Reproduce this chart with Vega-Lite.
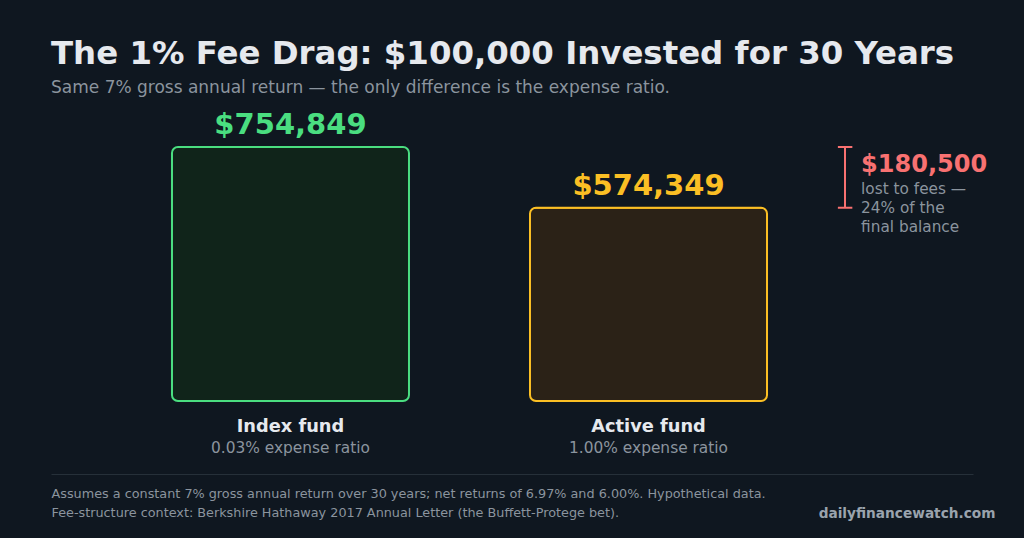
{
  "$schema": "https://vega.github.io/schema/vega-lite/v6.json",
  "width": 922,
  "height": 254,
  "autosize": {"type": "none"},
  "padding": {"left": 51, "right": 51, "top": 147, "bottom": 137},
  "background": "#0f1720",
  "title": {
    "text": "The 1% Fee Drag: $100,000 Invested for 30 Years",
    "subtitle": "Same 7% gross annual return — the only difference is the expense ratio.",
    "anchor": "start",
    "frame": "group",
    "fontSize": 32.4,
    "fontWeight": "bold",
    "color": "#e6e9ee",
    "subtitleFontSize": 17,
    "subtitleColor": "#8b949e",
    "subtitlePadding": 10,
    "offset": 15
  },
  "datasets": {
    "funds": [
      {"fund": "Index fund", "ratio": "0.03% expense ratio", "balance": 754849, "label": "$754,849"},
      {"fund": "Active fund", "ratio": "1.00% expense ratio", "balance": 574349, "label": "$574,349"}
    ],
    "gap": [
      {"low": 574349, "high": 754849, "amount": "$180,500", "note": ["lost to fees —", "24% of the", "final balance"]}
    ]
  },
  "data": {"name": "funds"},
  "encoding": {
    "x": {
      "field": "fund",
      "type": "nominal",
      "sort": null,
      "scale": {"domain": ["Index fund", "Active fund"], "paddingInner": 0.338, "paddingOuter": 0.4566, "align": 0.37},
      "axis": {
        "orient": "bottom",
        "offset": 73,
        "labels": false,
        "ticks": false,
        "grid": false,
        "domain": true,
        "domainColor": "#263039",
        "domainWidth": 1,
        "title": [
          "Assumes a constant 7% gross annual return over 30 years; net returns of 6.97% and 6.00%. Hypothetical data.",
          "Fee-structure context: Berkshire Hathaway 2017 Annual Letter (the Buffett-Protege bet)."
        ],
        "titleAnchor": "start",
        "titleAlign": "left",
        "titleBaseline": "alphabetic",
        "titleX": 0,
        "titleY": 23,
        "titleFontSize": 12.8,
        "titleFontWeight": "normal",
        "titleColor": "#8b949e",
        "titleLineHeight": 19
      }
    },
    "y": {
      "field": "balance",
      "type": "quantitative",
      "scale": {"domain": [0, 754849], "nice": false},
      "axis": {
        "orient": "right",
        "labels": false,
        "ticks": false,
        "grid": false,
        "domain": false,
        "title": "dailyfinancewatch.com",
        "titleAngle": 0,
        "titleAlign": "right",
        "titleBaseline": "alphabetic",
        "titleX": 22,
        "titleY": 370,
        "titleFontSize": 13.7,
        "titleFontWeight": "bold",
        "titleColor": "#9aa3ad"
      }
    }
  },
  "layer": [
    {
      "mark": {"type": "bar", "cornerRadius": 6, "strokeWidth": 2},
      "encoding": {
        "fill": {
          "field": "fund",
          "type": "nominal",
          "scale": {"domain": ["Index fund", "Active fund"], "range": ["#10241a", "#2b2217"]},
          "legend": null
        },
        "stroke": {
          "field": "fund",
          "type": "nominal",
          "scale": {"domain": ["Index fund", "Active fund"], "range": ["#4ade80", "#fbbf24"]},
          "legend": null
        }
      }
    },
    {
      "mark": {"type": "text", "baseline": "alphabetic", "dy": -13, "fontSize": 29, "fontWeight": "bold"},
      "encoding": {
        "text": {"field": "label"},
        "color": {
          "field": "fund",
          "type": "nominal",
          "scale": {"domain": ["Index fund", "Active fund"], "range": ["#4ade80", "#fbbf24"]},
          "legend": null
        }
      }
    },
    {
      "mark": {"type": "text", "baseline": "alphabetic", "dy": 31, "fontSize": 17.8, "fontWeight": "bold", "color": "#e6e9ee"},
      "encoding": {"y": {"datum": 0, "type": "quantitative"}, "text": {"field": "fund"}}
    },
    {
      "mark": {"type": "text", "baseline": "alphabetic", "dy": 52, "fontSize": 15.4, "color": "#8b949e"},
      "encoding": {"y": {"datum": 0, "type": "quantitative"}, "text": {"field": "ratio"}}
    },
    {
      "data": {"name": "gap"},
      "mark": {"type": "rule", "color": "#f87171", "strokeWidth": 2},
      "encoding": {
        "x": {"datum": "Active fund", "bandPosition": 1.329},
        "y": {"field": "low", "type": "quantitative"},
        "y2": {"field": "high"}
      }
    },
    {
      "data": {"name": "gap"},
      "mark": {"type": "rule", "color": "#f87171", "strokeWidth": 2},
      "encoding": {
        "x": {"datum": "Active fund", "bandPosition": 1.299},
        "x2": {"datum": "Active fund", "bandPosition": 1.36},
        "y": {"field": "high", "type": "quantitative"}
      }
    },
    {
      "data": {"name": "gap"},
      "mark": {"type": "rule", "color": "#f87171", "strokeWidth": 2},
      "encoding": {
        "x": {"datum": "Active fund", "bandPosition": 1.299},
        "x2": {"datum": "Active fund", "bandPosition": 1.36},
        "y": {"field": "low", "type": "quantitative"}
      }
    },
    {
      "data": {"name": "gap"},
      "mark": {"type": "text", "align": "left", "baseline": "alphabetic", "dy": 25, "fontSize": 24, "fontWeight": "bold", "color": "#f87171"},
      "encoding": {
        "x": {"datum": "Active fund", "bandPosition": 1.397},
        "y": {"field": "high", "type": "quantitative"},
        "text": {"field": "amount"}
      }
    },
    {
      "data": {"name": "gap"},
      "mark": {"type": "text", "align": "left", "baseline": "alphabetic", "dy": 47, "fontSize": 15.3, "lineHeight": 19, "color": "#8b949e"},
      "encoding": {
        "x": {"datum": "Active fund", "bandPosition": 1.397},
        "y": {"field": "high", "type": "quantitative"},
        "text": {"field": "note"}
      }
    }
  ],
  "config": {
    "font": "DejaVu Sans",
    "view": {"stroke": null}
  }
}
